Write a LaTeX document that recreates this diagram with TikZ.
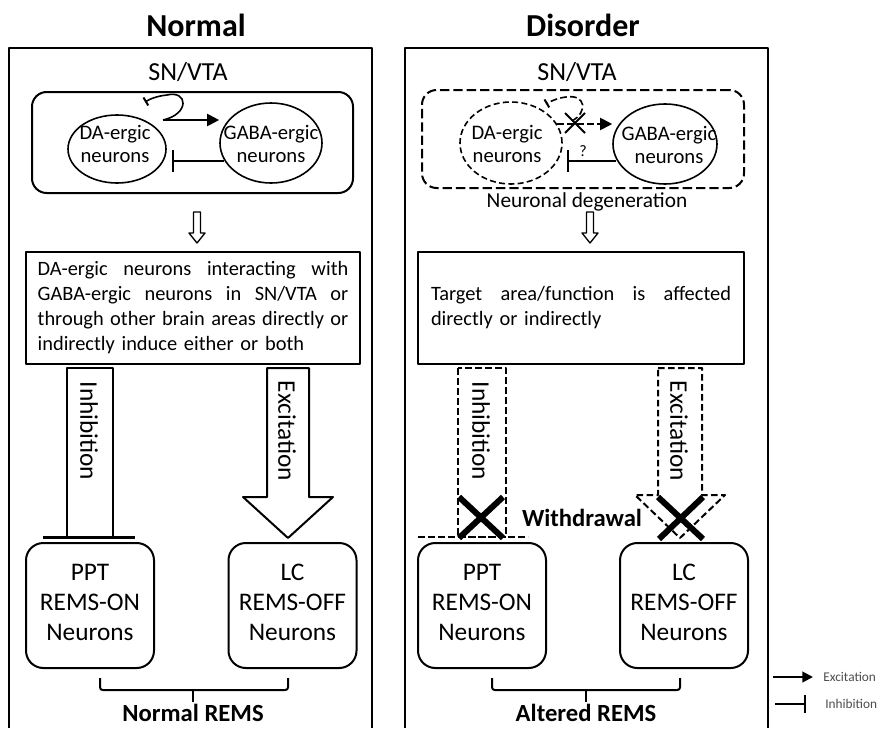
\documentclass[tikz,border=0pt]{standalone}
\usepackage{fontspec}
\setmainfont{Carlito}
\usetikzlibrary{arrows.meta,shapes.geometric,calc}
\newcommand\setsz[2]{\fontsize{#1}{#2}\selectfont}
\newcommand\fullline[2]{\leavevmode\hbox to #1{#2}}
\begin{document}
\begin{tikzpicture}[x=0.75pt,y=-0.75pt,line join=round,
  frame/.style={line width=1.5pt},
  title/.style={font=\bfseries\setsz{24}{28}},
  region/.style={font=\setsz{19.5}{23}},
  cell/.style={ellipse, draw, line width=1.2pt, inner sep=0pt},
  celltext/.style={align=center, font=\setsz{15.5}{17}, inner sep=0pt},
  excite/.style={line width=1.5pt, -{Triangle[length=9pt,width=9pt]}},
  inhibit/.style={line width=1.5pt, -{Bar[width=16pt,line width=1.8pt]}},
  dsh/.style={dash pattern=on 5pt off 2.5pt},
  infobox/.style={draw, line width=1.5pt, inner sep=0pt, font=\setsz{15.3}{18.75}, align=left},
  target/.style={draw, line width=1.5pt, rounded corners=13pt, minimum width=96pt, minimum height=93.75pt, align=center, font=\setsz{19}{22.5}, inner sep=0pt, text depth=4.5pt},
  block/.style={line width=1.5pt},
  blocktext/.style={rotate=-90, font=\setsz{19}{22}, inner sep=0pt},
  cross/.style={line width=4.5pt},
  brace/.style={line width=1.5pt, rounded corners=2pt},
  outcome/.style={font=\bfseries\setsz{18.5}{22}},
  legendtext/.style={font=\setsz{10}{12}, text=black!70, anchor=west, inner sep=0pt},
  hollowdown/.pic={\draw[line width=1pt] (-3.5,0) -- (3.5,0) -- (3.5,21) -- (8,21) -- (0,31) -- (-8,21) -- (-3.5,21) -- cycle;},
]
\useasboundingbox (0,0) rectangle (881,728);

% ---------- panel titles and frames ----------
\node[title] (tN) at (196,25) {Normal};
\node[title] (tD) at (583,25) {Disorder};
\draw[frame] (9,728) -- (9,48) -- (372,48) -- (372,728);
\draw[frame] (405,728) -- (405,48) -- (768,48) -- (768,728);

% ---------- Normal: SN/VTA ----------
\node[region] (snL) at (188,72) {SN/VTA};
\node[draw, line width=1.5pt, rounded corners=11pt, minimum width=240.75pt, minimum height=75.75pt] (SNL) at (192.5,142.5) {};
\node[cell, minimum width=73.5pt, minimum height=51pt] (DAL) at (117,149) {};
\node[cell, minimum width=76.5pt, minimum height=60pt] (GABAL) at (271,143) {};
\node[celltext] (DALt) at (115,144) {DA-ergic\\neurons};
\node[celltext] (GABALt) at (271,144) {GABA-ergic\\neurons};
\coordinate (jL) at (163,120);
\draw[excite] (jL) -- (jL -| GABAL.west);
\draw[line width=1.2pt, -{Bar[width=7pt,line width=1.5pt]}] (jL) .. controls (190,114) and (188,90) .. (167,95) .. controls (157,96) and (150,99) .. (145,102);
\draw[inhibit] ($(GABAL.west)+(5,18)$) -- ($(DAL.east)+(5,12)$);

% ---------- Disorder: SN/VTA ----------
\node[region] (snR) at (577,72) {SN/VTA};
\node[draw, line width=1.5pt, dash pattern=on 7pt off 3pt, rounded corners=11pt, minimum width=241.5pt, minimum height=73.5pt] (SNR) at (583,139) {};
\node[cell, dash pattern=on 4.5pt off 2.5pt, minimum width=76.5pt, minimum height=61.5pt] (DAR) at (511,143) {};
\node[cell, minimum width=78pt, minimum height=60pt] (GABAR) at (665,144) {};
\node[celltext] (DARt) at (507,144) {DA-ergic\\neurons};
\node[celltext] (GABARt) at (669,145) {GABA-ergic\\neurons};
\coordinate (jR) at (557,124);
\draw[excite, dsh] (jR) -- (jR -| GABAR.west);
\draw[line width=1.2pt, dsh, -{Bar[width=7pt,line width=1.5pt]}] (572,121) .. controls (588,112) and (586,94) .. (566,97) .. controls (558,98) and (551,101) .. (546,104);
\coordinate (xR) at (575,123);
\draw[line width=1.5pt] ($(xR)+(-10,-10)$) -- ($(xR)+(10,10)$) ($(xR)+(10,-10)$) -- ($(xR)+(-10,10)$);
\draw[inhibit] ($(GABAR.west)+(4,17)$) -- ($(DAR.east)+(4,18)$);
\node[font=\setsz{12}{14}] (q) at (583,151) {?};
\node[font=\setsz{16}{19}] (deg) at (587,202) {Neuronal degeneration};

% ---------- hollow arrows down ----------
\pic at (197,212) {hollowdown};
\pic at (590,212) {hollowdown};

% ---------- text boxes ----------
\node[infobox, minimum width=250.5pt, minimum height=84pt, text width=233pt] (TL) at (193,308)
  {\fullline{233pt}{DA-ergic\hfill neurons\hfill interacting\hfill with}\\
   \fullline{233pt}{GABA-ergic\hfill neurons\hfill in\hfill SN/VTA\hfill or}\\
   \fullline{233pt}{through\hfill other\hfill brain\hfill areas\hfill directly\hfill or}\\
   indirectly induce either or both};
\node[infobox, minimum width=244.5pt, minimum height=84pt, text width=225pt] (TR) at (581,308)
  {\fullline{225pt}{Target\hfill area/function\hfill is\hfill affected}\\
   directly or indirectly};

% ---------- Normal: block arrows ----------
\draw[block] (67,368) rectangle (113,537);
\draw[line width=2.25pt] (43,537) -- (135,537);
\node[blocktext] (inhL) at (89,431) {Inhibition};
\draw[block] (267,368) -- (309,368) -- (309,497) -- (333,497) -- (288,538) -- (243,497) -- (267,497) -- cycle;
\node[blocktext] (excL) at (287,431) {Excitation};

% ---------- Disorder: withdrawn block arrows ----------
\draw[block, dsh] (458,368) rectangle (506,537);
\draw[line width=2pt, dsh] (418,537) -- (528,537);
\node[blocktext] (inhR) at (481,431) {Inhibition};
\draw[block, dsh] (658,368) -- (702,368) -- (702,495) -- (725,495) -- (680,538) -- (635,495) -- (658,495) -- cycle;
\node[blocktext] (excR) at (679,431) {Excitation};
\draw[cross] (459,497) -- (503,538) (503,497) -- (459,538);
\draw[cross] (658,497) -- (703,539) (703,497) -- (659,539);
\node[outcome] (wd) at (582,518) {Withdrawal};

% ---------- target neurons ----------
\node[target] (PPTL) at (90,605.5) {PPT\\REMS-ON\\Neurons};
\node[target] (LCL) at (292.5,605.5) {LC\\REMS-OFF\\Neurons};
\node[target] (PPTR) at (482,605.5) {PPT\\REMS-ON\\Neurons};
\node[target] (LCR) at (684,605.5) {LC\\REMS-OFF\\Neurons};

% ---------- braces and outcomes ----------
\draw[brace] (100,678) -- (100,690) -- (288,690) -- (288,678);
\draw[line width=1.5pt] (193,690) -- (193,702);
\node[outcome] (outN) at (193,713) {Normal REMS};
\draw[brace] (492,678) -- (492,690) -- (680,690) -- (680,678);
\draw[line width=1.5pt] (586,690) -- (586,702);
\node[outcome] (outA) at (586,713) {Altered REMS};

% ---------- legend ----------
\coordinate (le1) at (773,677);
\coordinate (le2) at (813,677);
\coordinate (li1) at (775,704);
\coordinate (li2) at (806,704);
\draw[line width=1.5pt, -{Triangle[length=8pt,width=8pt]}] (le1) -- (le2);
\draw[line width=1.5pt, -{Bar[width=14pt,line width=1.8pt]}] (li1) -- (li2);
\node[legendtext] (lgE) at (823,677) {Excitation};
\node[legendtext] (lgI) at (825,704) {Inhibition};
\end{tikzpicture}
\end{document}
